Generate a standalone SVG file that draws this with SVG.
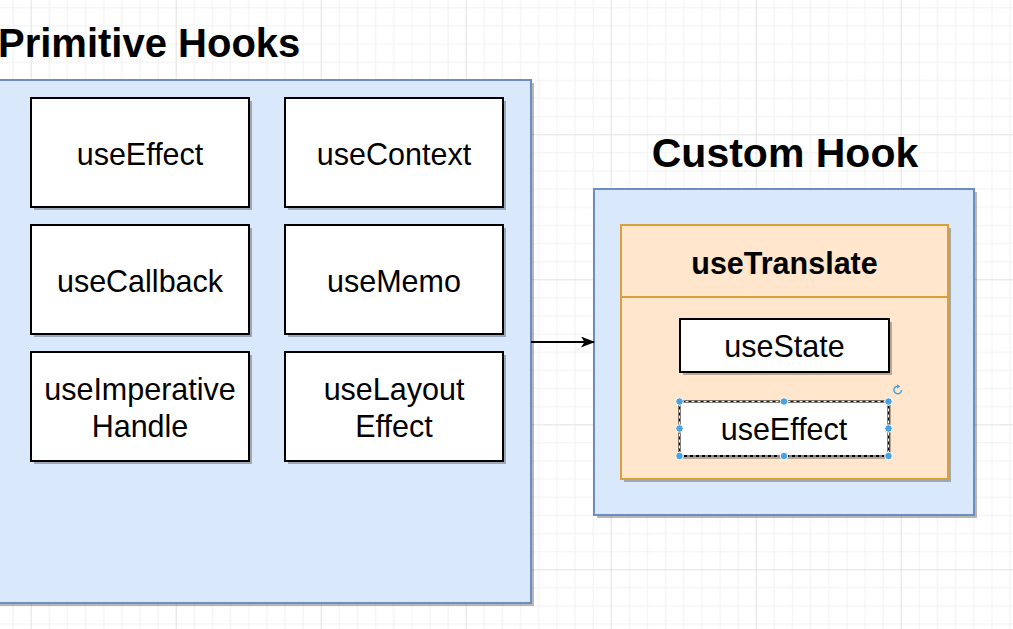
<svg xmlns="http://www.w3.org/2000/svg" width="1013" height="629" viewBox="0 0 1013 629">
  <style>
    .title { font-family: "Liberation Sans", Arial, sans-serif; font-weight: bold; font-size: 41px; fill: #000; }
    .lbl { font-family: "Liberation Sans", Arial, sans-serif; font-size: 30.5px; fill: #000; text-anchor: middle; }
    .blbl { font-family: "Liberation Sans", Arial, sans-serif; font-size: 30.5px; font-weight: bold; fill: #000; text-anchor: middle; }
    .container { fill: #dae8fc; stroke: #6c8ebf; stroke-width: 2; }
    .lane { fill: #ffe6cc; stroke: #d6a03c; stroke-width: 2; }
    .box { fill: #ffffff; stroke: #000; stroke-width: 2; }
    .shadow { fill: #000; fill-opacity: 0.28; }
    .handle { fill: #4aa3df; stroke: #ffffff; stroke-width: 1; }
  </style>
  <defs>
    <pattern id="grid" x="30.7" y="134.3" width="145" height="145" patternUnits="userSpaceOnUse">
      <g fill="#f1f1f1">
        <rect x="18.125" y="0" width="1" height="145"/>
        <rect x="36.25" y="0" width="1" height="145"/>
        <rect x="54.375" y="0" width="1" height="145"/>
        <rect x="72.5" y="0" width="1" height="145"/>
        <rect x="90.625" y="0" width="1" height="145"/>
        <rect x="108.75" y="0" width="1" height="145"/>
        <rect x="126.875" y="0" width="1" height="145"/>
        <rect y="18.125" x="0" height="1" width="145"/>
        <rect y="36.25" x="0" height="1" width="145"/>
        <rect y="54.375" x="0" height="1" width="145"/>
        <rect y="72.5" x="0" height="1" width="145"/>
        <rect y="90.625" x="0" height="1" width="145"/>
        <rect y="108.75" x="0" height="1" width="145"/>
        <rect y="126.875" x="0" height="1" width="145"/>
      </g>
      <g fill="#e2e2e2">
        <rect x="0" y="0" width="1" height="145"/>
        <rect x="0" y="0" width="145" height="1"/>
      </g>
    </pattern>
    <marker id="arrow" viewBox="0 0 14 11" refX="13" refY="5.5" markerWidth="14" markerHeight="11" markerUnits="userSpaceOnUse" orient="auto">
      <path d="M0,0 L14,5.5 L0,11 L3.5,5.5 Z" fill="#000"/>
    </marker>
  </defs>

  <rect width="1013" height="629" fill="#ffffff"/>
  <rect width="1013" height="629" fill="url(#grid)"/>

  <g id="title-primitive">
    <text class="title" x="-2" y="57" style="font-size:40px">Primitive Hooks</text>
  </g>
  <g id="title-custom">
    <text class="title" x="785" y="167" text-anchor="middle">Custom Hook</text>
  </g>

  <g id="primitive-hooks">
    <rect class="shadow" x="-7" y="83" width="541" height="523"/>
    <rect class="container" x="-10" y="80" width="541" height="523"/>
  </g>

  <g id="node-useEffect">
    <rect class="shadow" x="34" y="101" width="218" height="109"/>
    <rect class="box" x="31" y="98" width="218" height="109"/>
    <text class="lbl" x="140" y="164.5">useEffect</text>
  </g>
  <g id="node-useContext">
    <rect class="shadow" x="288" y="101" width="218" height="109"/>
    <rect class="box" x="285" y="98" width="218" height="109"/>
    <text class="lbl" x="394" y="164.5">useContext</text>
  </g>
  <g id="node-useCallback">
    <rect class="shadow" x="34" y="228" width="218" height="109"/>
    <rect class="box" x="31" y="225" width="218" height="109"/>
    <text class="lbl" x="140" y="291.5">useCallback</text>
  </g>
  <g id="node-useMemo">
    <rect class="shadow" x="288" y="228" width="218" height="109"/>
    <rect class="box" x="285" y="225" width="218" height="109"/>
    <text class="lbl" x="394" y="291.5">useMemo</text>
  </g>
  <g id="node-useImperativeHandle">
    <rect class="shadow" x="34" y="355" width="218" height="109"/>
    <rect class="box" x="31" y="352" width="218" height="109"/>
    <text class="lbl" x="140" y="400">useImperative</text>
    <text class="lbl" x="140" y="437">Handle</text>
  </g>
  <g id="node-useLayoutEffect">
    <rect class="shadow" x="288" y="355" width="218" height="109"/>
    <rect class="box" x="285" y="352" width="218" height="109"/>
    <text class="lbl" x="394" y="400">useLayout</text>
    <text class="lbl" x="394" y="437">Effect</text>
  </g>

  <g id="custom-hook">
    <rect class="shadow" x="597" y="192" width="380" height="326"/>
    <rect class="container" x="594" y="189" width="380" height="326"/>
  </g>

  <g id="node-useTranslate">
    <rect class="shadow" x="624" y="228" width="327" height="254"/>
    <rect class="lane" x="621" y="225" width="327" height="254"/>
    <line x1="621" y1="297" x2="948" y2="297" stroke="#d6a03c" stroke-width="2"/>
    <text class="blbl" x="784.5" y="274">useTranslate</text>
  </g>

  <g id="node-useState">
    <rect class="shadow" x="683" y="322" width="209" height="53"/>
    <rect class="box" x="680" y="319" width="209" height="53"/>
    <text class="lbl" x="784.5" y="356.5">useState</text>
  </g>

  <g id="node-useEffect-custom">
    <rect class="shadow" x="682" y="404" width="209" height="55"/>
    <rect class="box" x="679.5" y="401.5" width="209" height="54.5"/>
    <rect x="679.5" y="401.5" width="209" height="54.5" fill="none" stroke="#ffffff" stroke-width="1" stroke-dasharray="3 3"/>
    <text class="lbl" x="784" y="440">useEffect</text>
    <g id="selection-handles">
      <circle class="handle" cx="679.5" cy="401.5" r="3.8"/>
      <circle class="handle" cx="784" cy="401.5" r="3.8"/>
      <circle class="handle" cx="888.5" cy="401.5" r="3.8"/>
      <circle class="handle" cx="679.5" cy="428.5" r="3.8"/>
      <circle class="handle" cx="888.5" cy="428.5" r="3.8"/>
      <circle class="handle" cx="679.5" cy="456" r="3.8"/>
      <circle class="handle" cx="784" cy="456" r="3.8"/>
      <circle class="handle" cx="888.5" cy="456" r="3.8"/>
      <path d="M901.5,390 A3.8,3.8 0 1 1 898,386.2" fill="none" stroke="#4aa3df" stroke-width="1.5"/>
      <path d="M897,384.2 L900.5,386.4 L897,388.6 Z" fill="#4aa3df"/>
    </g>
  </g>

  <g id="connectors">
    <line x1="531" y1="342" x2="594" y2="342" stroke="#000" stroke-width="2" marker-end="url(#arrow)"/>
  </g>
</svg>
